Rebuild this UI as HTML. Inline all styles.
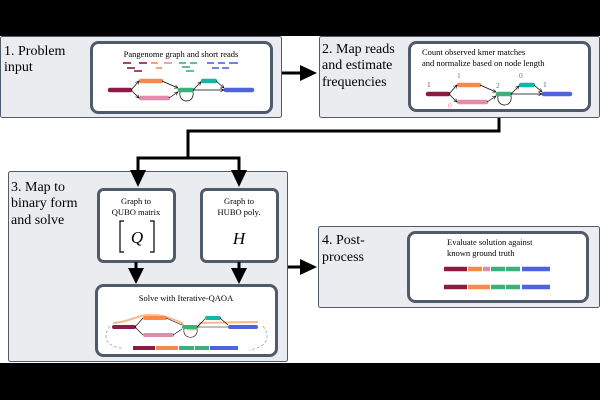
<!DOCTYPE html>
<html><head><style>
body{margin:0;background:#fff;}
svg{display:block;font-family:"Liberation Serif",serif;}
</style></head><body>
<svg width="600" height="400" viewBox="0 0 600 400" xmlns="http://www.w3.org/2000/svg">
<defs>
<marker id="sa" markerWidth="6" markerHeight="6" refX="5" refY="3" orient="auto"><path d="M0,0.5 L5,3 L0,5.5" fill="none" stroke="#000" stroke-width="0.8"/></marker>
</defs>
<rect x="0" y="0" width="600" height="36" fill="#000"/>
<rect x="0" y="363" width="600" height="37" fill="#000"/>

<!-- Panel 1 -->
<rect x="0.5" y="36.5" width="281" height="81" rx="2" fill="#ebecf0" stroke="#4f5a6b" stroke-width="1"/>
<text x="4" y="55" font-size="14">1. Problem</text>
<text x="4" y="71" font-size="14">input</text>
<rect x="91.5" y="42.5" width="180" height="70" rx="7" fill="#fff" stroke="#4f5a6b" stroke-width="3"/>
<text x="181" y="57" font-size="8.5" text-anchor="middle">Pangenome graph and short reads</text>
<g stroke-width="1.6">
<line x1="123" y1="63" x2="131" y2="63" stroke="#8b1a45"/><line x1="139" y1="63" x2="147" y2="63" stroke="#8b1a45"/>
<line x1="127" y1="68" x2="135" y2="68" stroke="#8b1a45"/><line x1="134" y1="71" x2="142" y2="71" stroke="#8b1a45"/>
<line x1="151" y1="63" x2="158" y2="63" stroke="#f58a4b"/><line x1="156" y1="68" x2="162" y2="68" stroke="#f58a4b"/>
<line x1="164" y1="63" x2="172" y2="63" stroke="#e48aad"/>
<line x1="179" y1="63" x2="186" y2="63" stroke="#3caf7d"/><line x1="190" y1="63" x2="197" y2="63" stroke="#3caf7d"/>
<line x1="182" y1="67" x2="190" y2="67" stroke="#3caf7d"/><line x1="186" y1="71" x2="194" y2="71" stroke="#3caf7d"/>
<line x1="207" y1="63" x2="214" y2="63" stroke="#4f63e0"/><line x1="218" y1="63" x2="225" y2="63" stroke="#4f63e0"/><line x1="229" y1="63" x2="238" y2="63" stroke="#4f63e0"/>
<line x1="212" y1="68" x2="219" y2="68" stroke="#4f63e0"/><line x1="222" y1="68" x2="229" y2="68" stroke="#4f63e0"/>
</g>
<g stroke-width="4.5" stroke-linecap="round">
<line x1="110" y1="90" x2="130" y2="90" stroke="#8b1a45"/>
<line x1="141" y1="81" x2="161" y2="81" stroke="#f58a4b"/>
<line x1="141" y1="98" x2="168" y2="98" stroke="#e48aad"/>
<line x1="180" y1="90" x2="192" y2="90" stroke="#3caf7d"/>
<line x1="203" y1="81" x2="215" y2="81" stroke="#17b5a8"/>
<line x1="226" y1="90" x2="252" y2="90" stroke="#4f63e0"/>
</g>
<g stroke="#000" stroke-width="0.7" fill="none">
<path d="M131,90 L139,81" marker-end="url(#sa)"/><path d="M131,90 L139,98" marker-end="url(#sa)"/>
<path d="M162,81 L178,88" marker-end="url(#sa)"/><path d="M169,98 L178,92" marker-end="url(#sa)"/>
<path d="M193,90 L201,82" marker-end="url(#sa)"/><path d="M216,81 L224,88" marker-end="url(#sa)"/>
<path d="M193,90 L224,90" marker-end="url(#sa)"/>
<path d="M193,92 C195,104 178,104 180,92"/>
</g>

<!-- Arrow 1->2 -->
<line x1="282" y1="73" x2="302" y2="73" stroke="#000" stroke-width="3"/>
<path d="M300,65 L317,73 L300,81z" fill="#000"/>

<!-- Panel 2 -->
<rect x="319.5" y="36.5" width="280" height="81" rx="2" fill="#ebecf0" stroke="#4f5a6b" stroke-width="1"/>
<text x="322" y="53" font-size="14">2. Map reads</text>
<text x="322" y="69" font-size="14">and estimate</text>
<text x="322" y="86" font-size="14">frequencies</text>
<rect x="409.5" y="42.5" width="180" height="68" rx="7" fill="#fff" stroke="#4f5a6b" stroke-width="3"/>
<text x="422" y="55" font-size="8.5">Count observed kmer matches</text>
<text x="422" y="66" font-size="8.5">and normalize based on node length</text>
<g font-size="7.5">
<text x="427" y="87" fill="#9a2a5a">1</text><text x="457" y="78" fill="#d0507a">1</text>
<text x="448" y="108" fill="#e48aad">0</text><text x="496" y="88" fill="#3c8f6d">2</text>
<text x="519" y="78" fill="#5a7a8a">0</text><text x="543" y="87" fill="#4f63b0">1</text>
</g>
<g stroke-width="4.5" stroke-linecap="round">
<line x1="428" y1="94" x2="448" y2="94" stroke="#8b1a45"/>
<line x1="459" y1="85" x2="479" y2="85" stroke="#f58a4b"/>
<line x1="459" y1="102" x2="486" y2="102" stroke="#e48aad"/>
<line x1="498" y1="94" x2="510" y2="94" stroke="#3caf7d"/>
<line x1="521" y1="85" x2="533" y2="85" stroke="#17b5a8"/>
<line x1="544" y1="94" x2="570" y2="94" stroke="#4f63e0"/>
</g>
<g stroke="#000" stroke-width="0.7" fill="none">
<path d="M449,94 L457,85" marker-end="url(#sa)"/><path d="M449,94 L457,102" marker-end="url(#sa)"/>
<path d="M480,85 L496,92" marker-end="url(#sa)"/><path d="M487,102 L496,96" marker-end="url(#sa)"/>
<path d="M511,94 L519,86" marker-end="url(#sa)"/><path d="M534,85 L542,92" marker-end="url(#sa)"/>
<path d="M511,94 L542,94" marker-end="url(#sa)"/>
<path d="M511,96 C513,108 496,108 498,96"/>
</g>

<!-- Panel 3 -->
<rect x="8.5" y="171.5" width="279" height="190" rx="2" fill="#ebecf0" stroke="#4f5a6b" stroke-width="1"/>
<text x="11" y="191" font-size="14">3. Map to</text>
<text x="11" y="207" font-size="14">binary form</text>
<text x="11" y="224" font-size="14">and solve</text>

<!-- connector 2->3 (drawn over panel) -->
<path d="M499,118 L499,131 L188,131 L188,158 M136.5,158 L240.5,158 M138,158 L138,172 M239,158 L239,172" fill="none" stroke="#000" stroke-width="3"/>
<path d="M130,170 L138,187 L146,170z" fill="#000"/>
<path d="M231,170 L239,187 L247,170z" fill="#000"/>

<rect x="98.5" y="189.5" width="76" height="72" rx="5" fill="#fff" stroke="#4f5a6b" stroke-width="3"/>
<text x="136" y="204" font-size="8.5" text-anchor="middle">Graph to</text>
<text x="136" y="215" font-size="8.5" text-anchor="middle">QUBO matrix</text>
<path d="M124,221 L120,221 L120,252 L124,252 M150,221 L154,221 L154,252 L150,252" fill="none" stroke="#000" stroke-width="1.2"/>
<text x="137" y="243" font-size="17" font-style="italic" text-anchor="middle">Q</text>
<rect x="201.5" y="189.5" width="76" height="72" rx="5" fill="#fff" stroke="#4f5a6b" stroke-width="3"/>
<text x="239" y="204" font-size="8.5" text-anchor="middle">Graph to</text>
<text x="239" y="215" font-size="8.5" text-anchor="middle">HUBO poly.</text>
<text x="239" y="244" font-size="17" font-style="italic" text-anchor="middle">H</text>
<line x1="136" y1="262" x2="136" y2="270" stroke="#000" stroke-width="3"/>
<path d="M128,268 L136,284 L144,268z" fill="#000"/>
<line x1="239" y1="262" x2="239" y2="270" stroke="#000" stroke-width="3"/>
<path d="M231,268 L239,284 L247,268z" fill="#000"/>
<rect x="96.5" y="285.5" width="180" height="70" rx="7" fill="#fff" stroke="#4f5a6b" stroke-width="3"/>
<text x="186" y="301" font-size="8.5" text-anchor="middle">Solve with Iterative-QAOA</text>
<path d="M113,323 C130,322 140,314 150,315 C165,315 170,318 182,323 C185,332 198,332 200,323 L258,322" fill="none" stroke="#f9b98a" stroke-width="2"/>
<g stroke-width="4" stroke-linecap="round">
<line x1="114" y1="327" x2="134" y2="327" stroke="#8b1a45"/>
<line x1="145" y1="318" x2="165" y2="318" stroke="#f58a4b"/>
<line x1="145" y1="335" x2="172" y2="335" stroke="#e48aad"/>
<line x1="184" y1="327" x2="196" y2="327" stroke="#3caf7d"/>
<line x1="207" y1="318" x2="219" y2="318" stroke="#17b5a8"/>
<line x1="230" y1="327" x2="256" y2="327" stroke="#4f63e0"/>
</g>
<g stroke="#000" stroke-width="0.6" fill="none">
<path d="M135,327 L143,318"/><path d="M135,327 L143,335"/>
<path d="M166,318 L182,325"/><path d="M173,335 L182,329"/>
<path d="M197,327 L205,319"/><path d="M220,318 L228,325"/>
<path d="M197,327 L228,327"/>
<path d="M197,329 C199,340 182,340 184,329"/>
</g>
<path d="M110,326 C100,340 110,348 124,348" fill="none" stroke="#9aa4b8" stroke-width="0.8" stroke-dasharray="3,2"/>
<path d="M263,326 C273,340 263,348 249,350" fill="none" stroke="#9aa4b8" stroke-width="0.8" stroke-dasharray="3,2"/>
<g stroke-width="4">
<line x1="133" y1="348" x2="155" y2="348" stroke="#8b1a45"/>
<line x1="156" y1="348" x2="178" y2="348" stroke="#f58a4b"/>
<line x1="179" y1="348" x2="194" y2="348" stroke="#3caf7d"/>
<line x1="195" y1="348" x2="209" y2="348" stroke="#3caf7d"/>
<line x1="210" y1="348" x2="238" y2="348" stroke="#4f63e0"/>
</g>

<!-- Arrow 3->4 -->
<line x1="288" y1="267" x2="302" y2="267" stroke="#000" stroke-width="3"/>
<path d="M300,259 L317,267 L300,275z" fill="#000"/>

<!-- Panel 4 -->
<rect x="318.5" y="226.5" width="281" height="81" rx="2" fill="#ebecf0" stroke="#4f5a6b" stroke-width="1"/>
<text x="322" y="244" font-size="14">4. Post-</text>
<text x="322" y="261" font-size="14">process</text>
<rect x="408.5" y="232.5" width="179" height="69" rx="7" fill="#fff" stroke="#4f5a6b" stroke-width="3"/>
<text x="447" y="245" font-size="8.5">Evaluate solution against</text>
<text x="447" y="256" font-size="8.5">known ground truth</text>
<g stroke-width="4.5">
<line x1="444" y1="269" x2="467" y2="269" stroke="#8b1a45"/>
<line x1="468" y1="269" x2="482" y2="269" stroke="#f58a4b"/>
<line x1="483" y1="269" x2="490" y2="269" stroke="#e48aad"/>
<line x1="491" y1="269" x2="505" y2="269" stroke="#3caf7d"/>
<line x1="506" y1="269" x2="520" y2="269" stroke="#3caf7d"/>
<line x1="522" y1="269" x2="550" y2="269" stroke="#4f63e0"/>
<line x1="444" y1="287" x2="467" y2="287" stroke="#8b1a45"/>
<line x1="468" y1="287" x2="490" y2="287" stroke="#f58a4b"/>
<line x1="491" y1="287" x2="505" y2="287" stroke="#3caf7d"/>
<line x1="506" y1="287" x2="520" y2="287" stroke="#3caf7d"/>
<line x1="522" y1="287" x2="550" y2="287" stroke="#4f63e0"/>
</g>
</svg>
</body></html>
